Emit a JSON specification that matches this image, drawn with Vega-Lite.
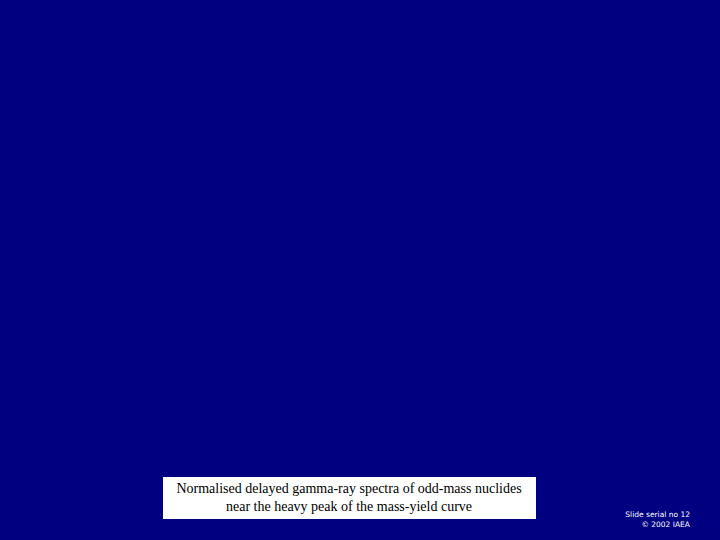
{
  "$schema": "https://vega.github.io/schema/vega-lite/v6.json",
  "width": 720,
  "height": 540,
  "autosize": {"type": "fit", "contains": "padding"},
  "padding": 0,
  "background": "#000080",
  "config": {"view": {"stroke": null}},
  "datasets": {
    "box": [{"x1": 163, "x2": 536, "y1": 477, "y2": 519}],
    "caption": [
      {"x": 349, "y": 489, "line": "Normalised delayed gamma-ray spectra of odd-mass nuclides"},
      {"x": 349, "y": 507, "line": "near the heavy peak of the mass-yield curve"}
    ],
    "footer": [
      {"x": 690, "y": 515, "line": "Slide serial no 12"},
      {"x": 690, "y": 525, "line": "© 2002 IAEA"}
    ]
  },
  "layer": [
    {
      "data": {"name": "box"},
      "mark": {"type": "rect", "color": "white"},
      "encoding": {
        "x": {"field": "x1", "type": "quantitative", "scale": {"domain": [0, 720]}, "axis": null},
        "x2": {"field": "x2"},
        "y": {"field": "y1", "type": "quantitative", "scale": {"domain": [0, 540], "reverse": true}, "axis": null},
        "y2": {"field": "y2"}
      }
    },
    {
      "data": {"name": "caption"},
      "mark": {"type": "text", "font": "Liberation Serif", "fontSize": 14, "color": "black", "align": "center", "baseline": "middle"},
      "encoding": {
        "x": {"field": "x", "type": "quantitative", "scale": {"domain": [0, 720]}, "axis": null},
        "y": {"field": "y", "type": "quantitative", "scale": {"domain": [0, 540], "reverse": true}, "axis": null},
        "text": {"field": "line"}
      }
    },
    {
      "data": {"name": "footer"},
      "mark": {"type": "text", "font": "DejaVu Sans", "fontSize": 7.5, "color": "white", "align": "right", "baseline": "middle"},
      "encoding": {
        "x": {"field": "x", "type": "quantitative", "scale": {"domain": [0, 720]}, "axis": null},
        "y": {"field": "y", "type": "quantitative", "scale": {"domain": [0, 540], "reverse": true}, "axis": null},
        "text": {"field": "line"}
      }
    }
  ]
}
